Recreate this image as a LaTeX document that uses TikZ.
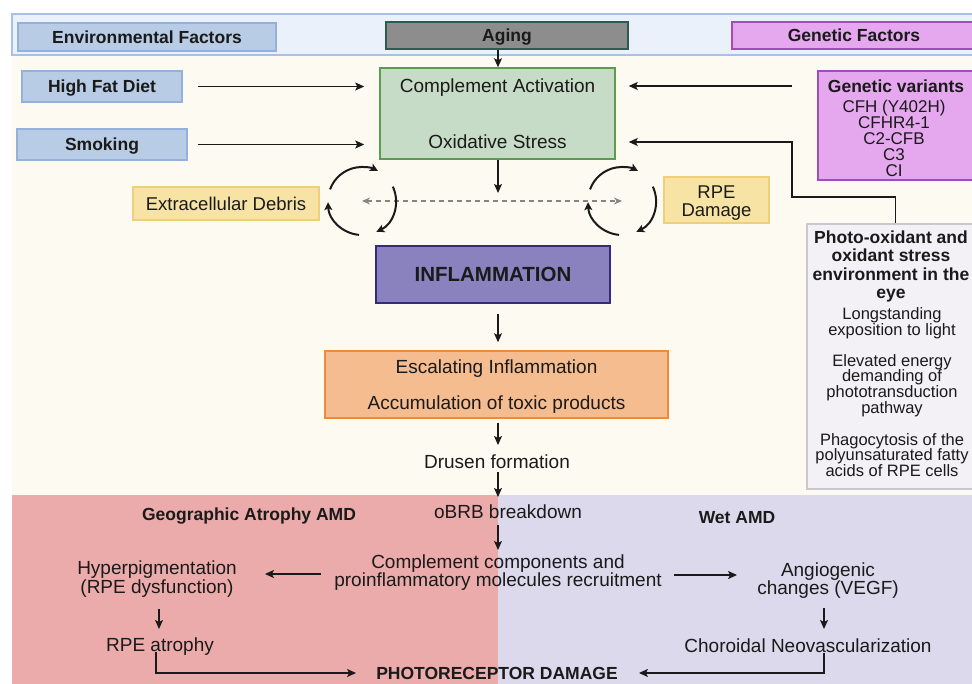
\documentclass[tikz,border=0pt]{standalone}
\usepackage{fontspec}
\setmainfont{Liberation Sans}
\usetikzlibrary{arrows.meta}
\definecolor{ink}{HTML}{1A1A1A}
\definecolor{cream}{HTML}{FDFAF1}
\definecolor{barfill}{HTML}{EAF1FA}
\definecolor{barline}{HTML}{A9C1E6}
\definecolor{envfill}{HTML}{B8CCE5}
\definecolor{envline}{HTML}{93B1DB}
\definecolor{agefill}{HTML}{8D8D8D}
\definecolor{ageline}{HTML}{2D5B50}
\definecolor{genfill}{HTML}{E5A8EF}
\definecolor{genline}{HTML}{A04DB8}
\definecolor{compfill}{HTML}{C7DCC6}
\definecolor{compline}{HTML}{5D9B52}
\definecolor{yelfill}{HTML}{F7E4A5}
\definecolor{yelline}{HTML}{F0CF7C}
\definecolor{inffill}{HTML}{8A82BE}
\definecolor{infline}{HTML}{372A7E}
\definecolor{orfill}{HTML}{F5BC90}
\definecolor{orline}{HTML}{EE8B3B}
\definecolor{phfill}{HTML}{F3F1F6}
\definecolor{phline}{HTML}{C9C8D0}
\definecolor{pinkbg}{HTML}{EBABAB}
\definecolor{lavbg}{HTML}{DDD9EC}
\definecolor{dashgray}{HTML}{858585}
\begin{document}
\begin{tikzpicture}[x=1pt,y=-1pt,
  box/.style={draw, line width=1.5pt, inner sep=0pt, text=ink},
  txt/.style={inner sep=0pt, text=ink, align=center, font=\fontsize{19}{19}\selectfont, text height=13.6pt, text depth=0pt},
  mtxt/.style={inner sep=0pt, text=ink, align=center, font=\fontsize{19}{18}\selectfont},
  btxt/.style={inner sep=0pt, text=ink, align=center, font=\fontsize{17.5}{18}\selectfont\bfseries, text height=12.6pt, text depth=0pt},
  stxt/.style={inner sep=0pt, text=ink, align=center, font=\fontsize{16.5}{15.8}\selectfont},
  arr/.style={draw=ink, line width=1.4pt, -{Stealth[length=9pt,width=8pt,inset=2pt]}},
  cyc/.style={draw=ink, line width=2pt, -{Stealth[length=8pt,width=8pt,inset=2pt]}}
]
\useasboundingbox (0,0) rectangle (972,684);
\clip (0,0) rectangle (972,684);
% backgrounds
\fill[cream] (12,55) rectangle (980,495);
\filldraw[fill=barfill, draw=barline, line width=1.5pt] (12,14) rectangle (990,55);
\fill[pinkbg] (12,495) rectangle (498,700);
\fill[lavbg] (498,495) rectangle (990,700);
% top labels
\node[box, btxt, fill=envfill, draw=envline, minimum width=258pt, minimum height=28pt] (env) at (147,37) {Environmental Factors};
\node[box, btxt, fill=agefill, draw=ageline, minimum width=242pt, minimum height=27pt] (age) at (507,35.5) {Aging};
\node[box, btxt, fill=genfill, draw=genline, minimum width=244pt, minimum height=27pt] (genf) at (854,35.5) {Genetic Factors};
\node[box, btxt, fill=envfill, draw=envline, minimum width=160pt, minimum height=31pt] (hfd) at (102,86.5) {High Fat Diet};
\node[box, btxt, fill=envfill, draw=envline, minimum width=170pt, minimum height=31pt] (smk) at (102,144.5) {Smoking};
% complement box
\node[box, fill=compfill, draw=compline, minimum width=235pt, minimum height=91pt] (comp) at (497.5,113.5) {};
\node[txt] (ca) at (497.5,86) {Complement Activation};
\node[txt] (os) at (497.5,142) {Oxidative Stress};
% genetic variants
\node[box, fill=genfill, draw=genline, minimum width=158pt, minimum height=109pt] (gv) at (897,125.5) {};
\node[btxt] (gvt) at (896,86) {Genetic variants};
\node[inner sep=0pt, text=ink, align=center, font=\fontsize{17}{16}\selectfont] (gvl) at (894,138) {CFH (Y402H)\\CFHR4-1\\C2-CFB\\C3\\CI};
% yellow boxes
\node[box, txt, fill=yelfill, draw=yelline, minimum width=186pt, minimum height=33pt, font=\fontsize{18.5}{18}\selectfont] (ecd) at (226,203.5) {Extracellular Debris};
\node[box, fill=yelfill, draw=yelline, minimum width=105pt, minimum height=46pt] (rpe) at (716.5,200) {};
\node[mtxt, font=\fontsize{18.5}{18}\selectfont] (rpet) at (716.5,203) {RPE\\Damage};
% inflammation
\node[box, fill=inffill, draw=infline, line width=2pt, minimum width=234pt, minimum height=57pt, font=\fontsize{20.5}{20}\selectfont\bfseries] (inf) at (493,274.5) {INFLAMMATION};
\node[box, fill=orfill, draw=orline, minimum width=343pt, minimum height=67pt] (esc) at (496.5,384.5) {};
\node[txt] (esc1) at (496.5,367) {Escalating Inflammation};
\node[txt] (esc2) at (496.5,403) {Accumulation of toxic products};
\node[txt] (dru) at (497,462) {Drusen formation};
% photo-oxidant box
\node[box, fill=phfill, draw=phline, minimum width=169pt, minimum height=265pt] (ph) at (891.5,356.5) {};
\node[inner sep=0pt, text=ink, align=center, font=\fontsize{17.5}{18.3}\selectfont\bfseries] (ph1) at (891,266.5) {Photo-oxidant and\\oxidant stress\\environment in the\\eye};
\node[stxt] (ph2) at (892,323) {Longstanding\\exposition to light};
\node[stxt] (ph3) at (892,385.5) {Elevated energy\\demanding of\\phototransduction\\pathway};
\node[stxt] (ph4) at (892,455) {Phagocytosis of the\\polyunsaturated fatty\\acids of RPE cells};
% bottom
\node[btxt] (ga) at (249,514) {Geographic Atrophy AMD};
\node[txt] (obrb) at (508,512) {oBRB breakdown};
\node[mtxt] (ccp) at (498,573) {Complement components and\\proinflammatory molecules recruitment};
\node[mtxt, font=\fontsize{19}{19}\selectfont] (hyp) at (157,579.5) {Hyperpigmentation\\(RPE dysfunction)};
\node[txt] (atr) at (160,645) {RPE atrophy};
\node[btxt] (prd) at (497,673) {PHOTORECEPTOR DAMAGE};
\node[btxt] (wet) at (737,517) {Wet AMD};
\node[mtxt] (ang) at (828,581) {Angiogenic\\changes (VEGF)};
\node[txt] (cnv) at (808,646) {Choroidal Neovascularization};
% helper coordinates
\coordinate (colx) at (498,0);
\coordinate (mid) at (498,201);
\coordinate (bend) at (792,197);
\coordinate (cl) at (362,201);
\coordinate (cr) at (622,201);
% connectors
\draw[arr] (age.south -| colx) -- (comp.north -| colx);
\draw[arr, shorten <=15pt, shorten >=15pt] (hfd.east) -- (hfd.east -| comp.west);
\draw[arr, shorten <=10pt, shorten >=15pt] (smk.east) -- (smk.east -| comp.west);
\draw[arr, shorten <=25pt, shorten >=13pt] (gv.west |- ca) -- (comp.east |- ca);
\draw[arr, shorten >=13pt] ([xshift=4pt]ph.north) |- (bend) |- (comp.east |- os);
\draw[arr, shorten >=8pt] (comp.south -| colx) -- (mid);
\draw[dashgray, line width=1.5pt, dash pattern=on 5pt off 4pt, {Stealth[length=8pt,width=7pt]}-{Stealth[length=8pt,width=7pt]}] (cl) -- (cr);
\foreach \c in {cl,cr}{
  \draw[cyc] ([shift={(160:34pt)}]\c) arc[start angle=160, end angle=62, radius=34pt];
  \draw[cyc] ([shift={(25:34pt)}]\c) arc[start angle=25, end angle=-65, radius=34pt];
  \draw[cyc] ([shift={(-95:34pt)}]\c) arc[start angle=-95, end angle=-178, radius=34pt];
}
\draw[arr, shorten <=10pt, shorten >=8pt] (inf.south -| colx) -- (esc.north -| colx);
\draw[arr, shorten <=4pt, shorten >=10pt] (esc.south -| colx) -- (dru.north -| colx);
\draw[arr, shorten <=3pt, shorten >=8pt] (dru.south -| colx) -- (obrb.north -| colx);
\draw[arr, shorten <=6pt, shorten >=5pt] (obrb.south -| colx) -- (ccp.north -| colx);
\coordinate (lrow) at (0,574);
\coordinate (rrow) at (0,575);
\draw[arr, shorten <=13pt, shorten >=28pt] (ccp.west |- lrow) -- (hyp.east |- lrow);
\draw[arr, shorten <=12pt, shorten >=20pt] (ccp.east |- rrow) -- (ang.west |- rrow);
\draw[arr, shorten <=11pt, shorten >=9pt] ([xshift=2pt]hyp.south) -- ([xshift=-1pt]atr.north);
\draw[arr, shorten >=20pt] ([xshift=-4pt]atr.south) |- (prd.west);
\draw[arr, shorten <=9pt, shorten >=10pt] ([xshift=-4pt]ang.south) -- ([xshift=16pt]cnv.north);
\draw[arr, shorten >=21pt] ([xshift=16pt]cnv.south) |- (prd.east);
\end{tikzpicture}
\end{document}
